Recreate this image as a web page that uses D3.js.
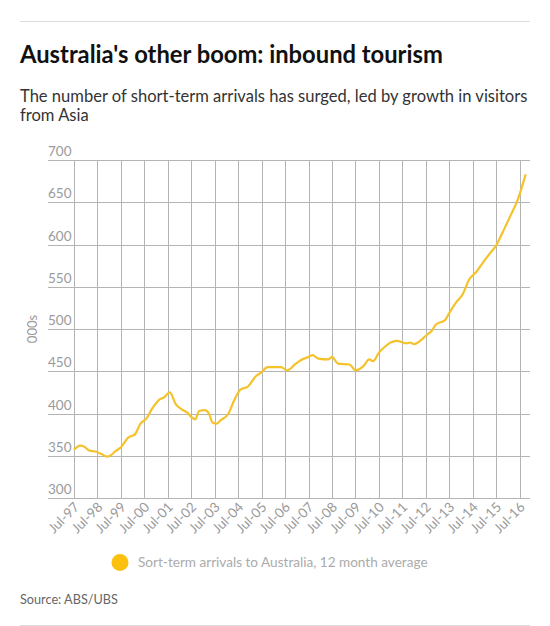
<!DOCTYPE html>
<html>
<head>
<meta charset="utf-8">
<script src="https://cdn.jsdelivr.net/npm/d3@7"></script>
<style>
  body { margin: 0; background: #fff; }
  svg { display: block; font-family: Lato, "Noto Sans", sans-serif; }
  .grid line { stroke: #b4b4b4; stroke-width: 1; shape-rendering: crispEdges; }
  .tick-label { fill: #9a9a9a; font-size: 13.5px; }
</style>
</head>
<body>
<svg id="chart" width="550" height="626"></svg>
<script>
// values: [month, thousands of arrivals]
var arrivals = [
  ["1997-07", 357], ["1997-10", 362], ["1997-12", 361], ["1998-03", 356],
  ["1998-06", 355], ["1998-09", 352], ["1998-12", 349], ["1999-02", 351],
  ["1999-04", 355], ["1999-07", 360], ["1999-11", 372], ["2000-02", 375],
  ["2000-05", 388], ["2000-08", 394], ["2000-11", 406], ["2001-03", 417],
  ["2001-05", 419], ["2001-08", 425], ["2001-11", 411], ["2002-02", 405],
  ["2002-05", 401], ["2002-07", 396], ["2002-09", 393], ["2002-11", 403],
  ["2003-02", 404], ["2003-04", 400], ["2003-06", 389], ["2003-08", 388],
  ["2003-10", 392], ["2004-02", 400], ["2004-05", 416], ["2004-08", 428],
  ["2004-12", 432], ["2005-04", 444], ["2005-07", 449], ["2005-10", 455],
  ["2006-02", 455], ["2006-05", 455], ["2006-08", 451], ["2006-12", 458],
  ["2007-03", 463], ["2007-07", 467], ["2007-09", 469], ["2007-12", 465],
  ["2008-05", 464], ["2008-07", 467], ["2008-10", 459], ["2009-04", 458],
  ["2009-07", 451], ["2009-11", 456], ["2010-02", 464], ["2010-04", 462],
  ["2010-07", 472], ["2010-10", 479], ["2011-01", 484], ["2011-04", 486],
  ["2011-09", 483], ["2011-11", 484], ["2012-01", 482], ["2012-04", 486],
  ["2012-07", 492], ["2012-10", 498], ["2012-12", 505], ["2013-05", 511],
  ["2013-07", 519], ["2013-10", 530], ["2014-02", 542], ["2014-05", 558],
  ["2014-09", 568], ["2014-12", 578], ["2015-04", 590], ["2015-07", 599],
  ["2015-10", 613], ["2016-02", 633], ["2016-06", 653], ["2016-10", 683]
];
var yTicks = [300, 350, 400, 450, 500, 550, 600, 650, 700];
var xTickYears = d3.range(1997, 2017);
var title = "Australia's other boom: inbound tourism";
var subtitle = ["The number of short-term arrivals has surged, led by growth in visitors", "from Asia"];
var legendLabel = "Sort-term arrivals to Australia, 12 month average";
var source = "Source: ABS/UBS";

var parseMonth = d3.timeParse("%Y-%m");
var series = arrivals.map(function(d) { return { date: parseMonth(d[0]), value: d[1] }; });

var svg = d3.select('#chart');
var plot = { left: 48, right: 530, top: 160, bottom: 498 };

var x = d3.scaleTime()
  .domain([new Date(1997, 6, 1), new Date(2016, 6, 1)])
  .range([74, 519.7]);
var y = d3.scaleLinear().domain([300, 700]).range([plot.bottom, plot.top]);

// squeeze a text element to a given width
var fitWidth = function(sel, width) {
  var len = sel.node().getComputedTextLength();
  var size = parseFloat(sel.style('font-size'));
  sel.style('font-size', (size * width / len) + 'px');
  return size * width / len;
};

// rules
svg.append('line').attr('x1', 20).attr('x2', 530).attr('y1', 21.5).attr('y2', 21.5)
  .attr('stroke', '#dcdcdc');
svg.append('line').attr('x1', 20).attr('x2', 530).attr('y1', 625.5).attr('y2', 625.5)
  .attr('stroke', '#dcdcdc');

// headings
var titleText = svg.append('text').attr('x', 20).attr('y', 63)
  .style('font-size', '22px').style('font-weight', 700).style('fill', '#111').text(title);
fitWidth(titleText, 423);

var sub1 = svg.append('text').attr('x', 20).attr('y', 102)
  .style('font-size', '17px').style('fill', '#333').text(subtitle[0]);
var subSize = fitWidth(sub1, 508);
svg.append('text').attr('x', 20).attr('y', 121)
  .style('font-size', subSize + 'px').style('fill', '#333').text(subtitle[1]);

// gridlines
var grid = svg.append('g').attr('class', 'grid');
grid.selectAll('.y-gridline').data(yTicks).enter().append('line')
  .attr('class', 'y-gridline')
  .attr('x1', plot.left).attr('x2', plot.right)
  .attr('y1', function(d) { return Math.round(y(d)) + 0.5; })
  .attr('y2', function(d) { return Math.round(y(d)) + 0.5; });
grid.selectAll('.x-gridline').data(xTickYears).enter().append('line')
  .attr('class', 'x-gridline')
  .attr('x1', function(d) { return Math.round(x(new Date(d, 6, 1))) + 0.5; })
  .attr('x2', function(d) { return Math.round(x(new Date(d, 6, 1))) + 0.5; })
  .attr('y1', plot.top).attr('y2', plot.bottom);

// y tick labels sit above their gridlines
svg.selectAll('.y-tick-label').data(yTicks).enter().append('text')
  .attr('class', 'tick-label y-tick-label')
  .attr('x', plot.left).attr('y', function(d) { return y(d) - 4; })
  .text(String);

svg.append('text')
  .attr('transform', 'translate(37,' + y(500) + ') rotate(-90)')
  .attr('text-anchor', 'middle')
  .style('font-size', '13px').style('fill', '#9a9a9a')
  .text('000s');

// x tick labels, rotated
var fmt = d3.timeFormat('Jul-%y');
svg.selectAll('.x-tick-label').data(xTickYears).enter().append('text')
  .attr('class', 'tick-label x-tick-label')
  .attr('text-anchor', 'end')
  .attr('transform', function(d) {
    return 'translate(' + (x(new Date(d, 6, 1)) + 6) + ',' + (plot.bottom + 10) + ') rotate(-45)';
  })
  .text(function(d) { return fmt(new Date(d, 6, 1)); });

// the series
var line = d3.line()
  .x(function(d) { return x(d.date); })
  .y(function(d) { return y(d.value); })
  .curve(d3.curveMonotoneX);
svg.append('path').datum(series)
  .attr('d', line)
  .attr('fill', 'none')
  .attr('stroke', '#f4c22b')
  .attr('stroke-width', 2.2)
  .attr('stroke-linejoin', 'round');

// legend
svg.append('circle').attr('cx', 120).attr('cy', 562.5).attr('r', 8.5).attr('fill', '#fcc10f');
var legendText = svg.append('text').attr('x', 138).attr('y', 567)
  .style('font-size', '14px').style('fill', '#ababab').text(legendLabel);
fitWidth(legendText, 290);

// source
var sourceText = svg.append('text').attr('x', 20).attr('y', 604)
  .style('font-size', '14px').style('fill', '#666').text(source);
fitWidth(sourceText, 98);
</script>
</body>
</html>
